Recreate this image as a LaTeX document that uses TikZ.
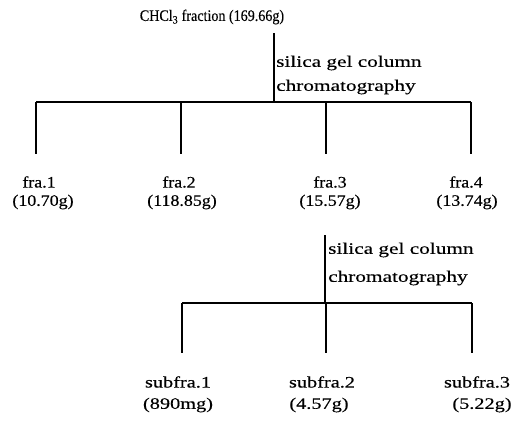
\documentclass[tikz,border=0pt]{standalone}
\usepackage{fontspec}
\setmainfont{Liberation Serif}
\newfontfamily\topfont[FakeStretch=0.88,FakeBold=0.3]{Liberation Serif}
\newfontfamily\frafont[FakeStretch=1.12,FakeBold=0.3]{Liberation Serif}
\newfontfamily\subfont[FakeStretch=1.27,FakeBold=0.3]{Liberation Serif}
\newfontfamily\notefont[FakeStretch=1.33,FakeBold=0.3]{Liberation Serif}
\begin{document}
\begin{tikzpicture}[x=1pt,y=-1pt,
  lbl/.style={inner sep=0pt},
  toplbl/.style={lbl,font=\topfont\fontsize{16}{18}\selectfont},
  fralbl/.style={lbl,font=\frafont\fontsize{16}{18}\selectfont},
  sublbl/.style={lbl,font=\subfont\fontsize{16}{18}\selectfont},
  note/.style={lbl,anchor=west,font=\notefont\fontsize{16}{18}\selectfont},
  ln/.style={line width=1.3pt}]
\useasboundingbox (0,0) rectangle (518,421);
% top
\node[toplbl] (top) at (212,17) {CHCl\textsubscript{3} fraction (169.66g)};
\coordinate (s1) at (274,33);
\coordinate (j1) at (274,102);
\node[note] (n1a) at (276,63) {silica gel column};
\node[note] (n1b) at (276,87) {chromatography};
\coordinate (b1) at (36,102);
\coordinate (b2) at (181,102);
\coordinate (b3) at (326,102);
\coordinate (b4) at (471,102);
\coordinate (e1) at (36,154);
\coordinate (e2) at (181,154);
\coordinate (e3) at (326,154);
\coordinate (e4) at (471,154);
\draw[ln] (s1) -- (j1);
\draw[ln] (b1) -- (b4);
\draw[ln] (b1) -- (e1);
\draw[ln] (b2) -- (e2);
\draw[ln] (b3) -- (e3);
\draw[ln] (b4) -- (e4);
% fractions
\node[fralbl] (f1) at (39,182) {fra.1};
\node[fralbl] (f1w) at (43,202) {(10.70g)};
\node[fralbl] (f2) at (179,182) {fra.2};
\node[fralbl] (f2w) at (182,202) {(118.85g)};
\node[fralbl] (f3) at (330,182) {fra.3};
\node[fralbl] (f3w) at (330,202) {(15.57g)};
\node[fralbl] (f4) at (466,182) {fra.4};
\node[fralbl] (f4w) at (467,202) {(13.74g)};
% second stage
\coordinate (s2) at (325,235);
\coordinate (j2) at (325,303);
\node[note] (n2a) at (328,250) {silica gel column};
\node[note] (n2b) at (328,278) {chromatography};
\coordinate (c1) at (182,303);
\coordinate (c2) at (326,303);
\coordinate (c3) at (472,303);
\coordinate (d1) at (182,353);
\coordinate (d2) at (326,353);
\coordinate (d3) at (472,353);
\draw[ln] (s2) -- (j2);
\draw[ln] (c1) -- (c3);
\draw[ln] (c1) -- (d1);
\draw[ln] (c2) -- (d2);
\draw[ln] (c3) -- (d3);
\node[sublbl] (g1) at (178,382) {subfra.1};
\node[sublbl] (g1w) at (178,405) {(890mg)};
\node[sublbl] (g2) at (322,382) {subfra.2};
\node[sublbl] (g2w) at (319,405) {(4.57g)};
\node[sublbl] (g3) at (477,382) {subfra.3};
\node[sublbl] (g3w) at (482,405) {(5.22g)};
\end{tikzpicture}
\end{document}
